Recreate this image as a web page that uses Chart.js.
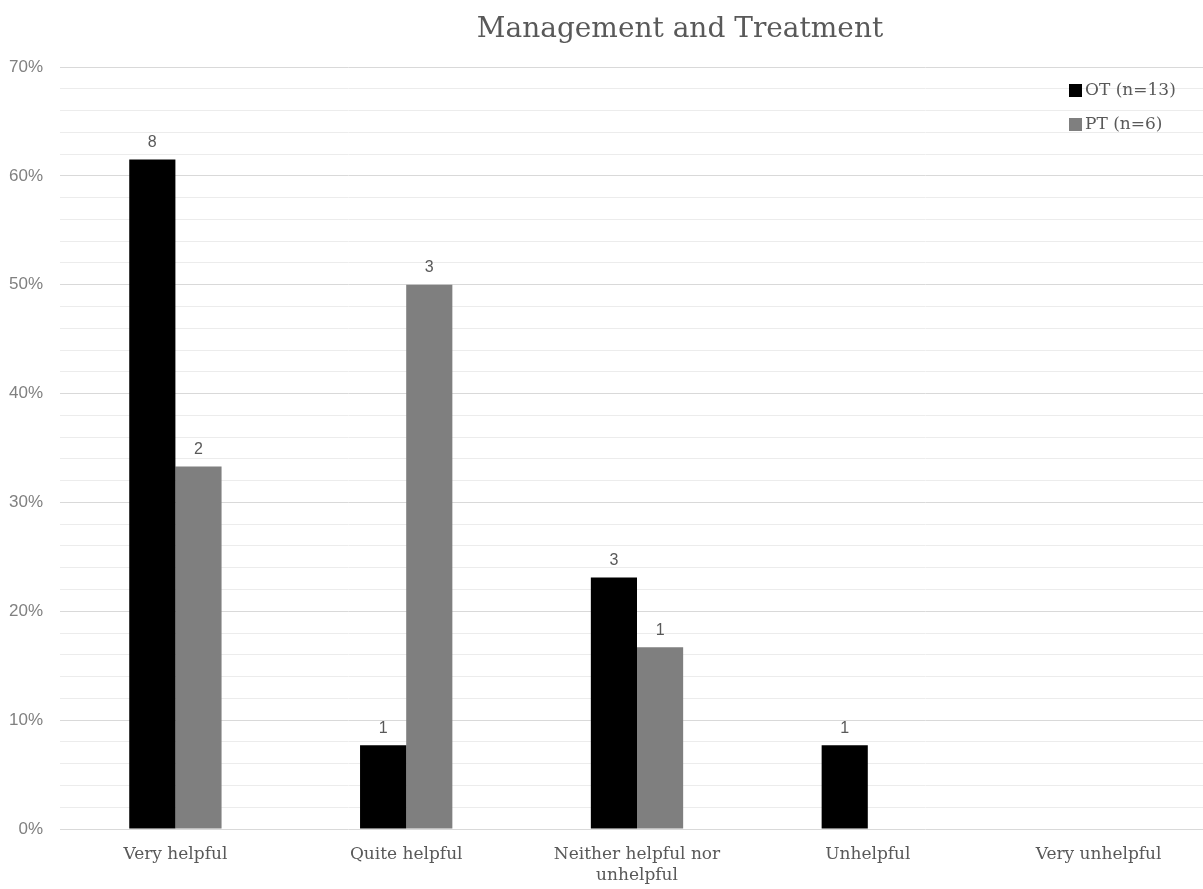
<!DOCTYPE html>
<html>
<head>
<meta charset="utf-8">
<script src="https://cdn.jsdelivr.net/npm/chart.js@4"></script>
<style>
  html, body { margin: 0; padding: 0; background: #fff; overflow: hidden; }
  #wrap { width: 1360px; height: 889px; }
</style>
</head>
<body>
<div id="wrap"><canvas id="grafico"></canvas></div>
<script>
// categorias y valores
const categorias = ['Very helpful', 'Quite helpful', ['Neither helpful nor', 'unhelpful'], 'Unhelpful', 'Very unhelpful'];
const otPorcentaje = [61.5, 7.7, 23.1, 7.7, 0];
const ptPorcentaje = [33.3, 50.0, 16.7, 0, 0];
const otCuentas = [8, 1, 3, 1, 0];
const ptCuentas = [2, 3, 1, 0, 0];
const etiquetasSeries = ['OT (n=13)', 'PT (n=6)'];
const titulo = 'Management and Treatment';

const gris = '#595959';

// titulo centrado sobre el grafico completo (mas ancho que la ventana)
const tituloPlugin = {
  id: 'tituloPlugin',
  afterDraw(chart) {
    const ctx = chart.ctx;
    ctx.save();
    ctx.font = '28px "DejaVu Serif", serif';
    ctx.fillStyle = gris;
    ctx.textAlign = 'center';
    ctx.textBaseline = 'middle';
    ctx.fillText(titulo, 680, 30);
    ctx.restore();
  }
};

// numeros encima de cada barra
const etiquetasBarras = {
  id: 'etiquetasBarras',
  afterDatasetsDraw(chart) {
    const ctx = chart.ctx;
    const cuentas = [otCuentas, ptCuentas];
    ctx.save();
    ctx.font = '16px "Liberation Sans", sans-serif';
    ctx.fillStyle = gris;
    ctx.textAlign = 'center';
    ctx.textBaseline = 'bottom';
    chart.data.datasets.forEach((ds, i) => {
      chart.getDatasetMeta(i).data.forEach((bar, j) => {
        const c = cuentas[i][j];
        if (!c) return;
        ctx.fillText(String(c), bar.x, bar.y - 9);
      });
    });
    ctx.restore();
  }
};

// leyenda dentro del area, arriba a la derecha
const leyenda = {
  id: 'leyenda',
  afterDraw(chart) {
    const ctx = chart.ctx;
    ctx.save();
    ctx.font = '17px "DejaVu Serif", serif';
    ctx.textBaseline = 'middle';
    chart.data.datasets.forEach((ds, i) => {
      const y = 91 + i * 34;
      ctx.fillStyle = ds.backgroundColor;
      ctx.fillRect(1069, y - 7, 13, 13);
      ctx.fillStyle = gris;
      ctx.fillText(ds.label, 1085, y);
    });
    ctx.restore();
  }
};

new Chart(document.getElementById('grafico').getContext('2d'), {
  type: 'bar',
  data: {
    labels: categorias,
    datasets: [
      {
        label: etiquetasSeries[0],
        data: otPorcentaje,
        backgroundColor: '#000000',
        categoryPercentage: 0.4,
        barPercentage: 1.0,
      },
      {
        label: etiquetasSeries[1],
        data: ptPorcentaje,
        backgroundColor: '#7f7f7f',
        categoryPercentage: 0.4,
        barPercentage: 1.0,
      },
    ]
  },
  options: {
    responsive: true,
    maintainAspectRatio: false,
    animation: false,
    layout: { padding: { left: 0, right: 146, top: 67, bottom: 0 } },
    plugins: {
      legend: { display: false },
      tooltip: { enabled: false },
      title: { display: false }
    },
    scales: {
      x: {
        grid: { display: false, drawTicks: false },
        border: { display: false },
        ticks: {
          color: gris,
          padding: 15,
          maxRotation: 0,
          autoSkip: false,
          font: { family: '"DejaVu Serif", serif', size: 17, lineHeight: 1.25 }
        },
        afterFit(scale) { scale.height = 60; }
      },
      y: {
        min: 0,
        max: 70,
        border: { display: false },
        grid: {
          drawTicks: false,
          color: ctx => (ctx.tick && ctx.tick.value % 10 === 0) ? '#d9d9d9' : '#ececec',
          lineWidth: 1
        },
        ticks: {
          stepSize: 2,
          padding: 17,
          autoSkip: false,
          color: '#808080',
          font: { family: '"Liberation Sans", sans-serif', size: 17 },
          callback: v => (v % 10 === 0) ? v + '%' : ''
        },
        afterFit(scale) { scale.width = 60; }
      }
    }
  },
  plugins: [etiquetasBarras, leyenda, tituloPlugin]
});
</script>
</body>
</html>
